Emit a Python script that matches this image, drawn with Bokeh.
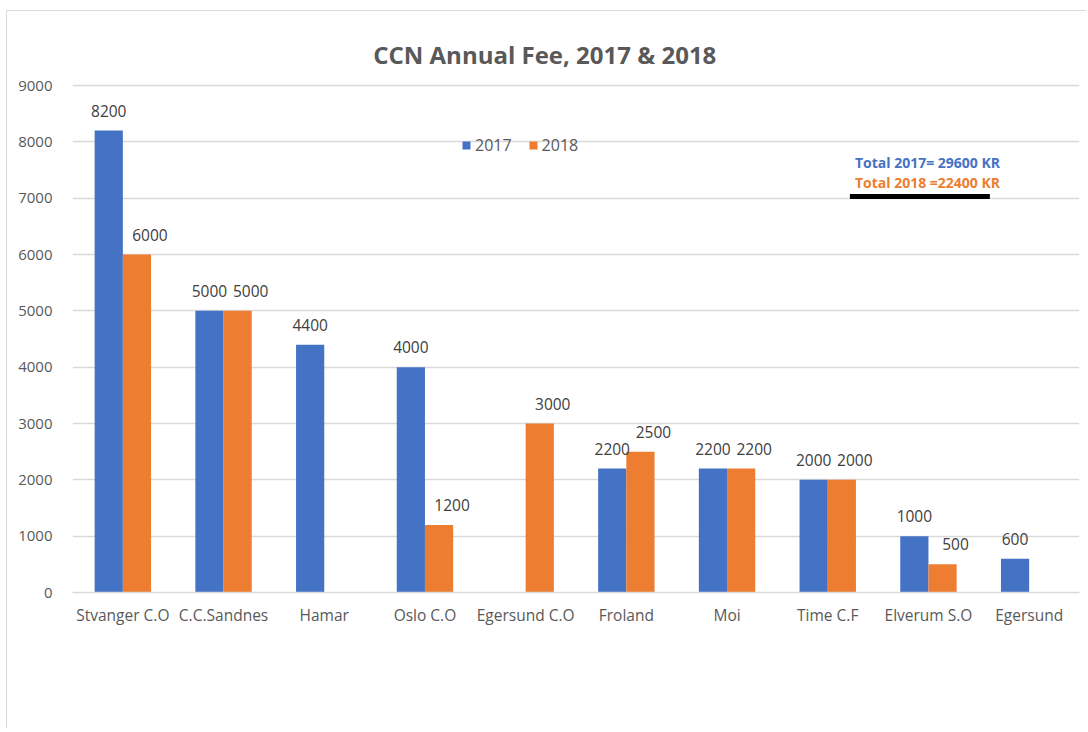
from bokeh.plotting import figure
from bokeh.models import ColumnDataSource, FactorRange, Legend, LegendItem, Label, LabelSet
from bokeh.transform import dodge
from bokeh.embed import file_html
from bokeh.resources import INLINE
from bokeh.core.properties import value

categories = ["Stvanger C.O", "C.C.Sandnes", "Hamar", "Oslo C.O", "Egersund C.O",
              "Froland", "Moi", "Time C.F", "Elverum S.O", "Egersund"]
fee_2017 = [8200, 5000, 4400, 4000, 0, 2200, 2200, 2000, 1000, 600]
fee_2018 = [6000, 5000, 0, 1200, 3000, 2500, 2200, 2000, 500, 0]
y_ticks = [0, 1000, 2000, 3000, 4000, 5000, 6000, 7000, 8000, 9000]
title_text = "CCN Annual Fee, 2017 & 2018"
total_2017 = sum(fee_2017)
total_2018 = sum(fee_2018)

BLUE = "#4472C4"
ORANGE = "#ED7D31"
FONT = "Open Sans"

src = ColumnDataSource(dict(cat=categories, y17=fee_2017, y18=fee_2018))
lab17 = ColumnDataSource(dict(cat=[c for c, v in zip(categories, fee_2017) if v > 0],
                              v=[v for v in fee_2017 if v > 0],
                              t=[str(v) for v in fee_2017 if v > 0]))
lab18 = ColumnDataSource(dict(cat=[c for c, v in zip(categories, fee_2018) if v > 0],
                              v=[v for v in fee_2018 if v > 0],
                              t=[str(v) for v in fee_2018 if v > 0]))

p = figure(width=1080, height=718, x_range=FactorRange(*categories, range_padding=0),
           y_range=(0, 10314), output_backend="svg", toolbar_location=None,
           min_border_left=65, min_border_right=8, min_border_top=0, min_border_bottom=137)
p.styles = {"box-shadow": "-1px -1px 0px 0px #d9d9d9", "margin": "11px 0px 0px 7px"}
p.outline_line_color = None
p.background_fill_color = "white"

r17 = p.vbar(x=dodge("cat", -0.14, range=p.x_range), top="y17", width=0.28, source=src,
             fill_color=BLUE, line_color=None)
r18 = p.vbar(x=dodge("cat", 0.14, range=p.x_range), top="y18", width=0.28, source=src,
             fill_color=ORANGE, line_color=None)

for s, off, xo in ((lab17, -0.14, 0), (lab18, 0.14, 13)):
    p.add_layout(LabelSet(x=dodge("cat", off, range=p.x_range), y="v", text="t", source=s,
                          text_align="center", text_baseline="bottom", y_offset=14, x_offset=xo,
                          text_font=value(FONT), text_font_size="15.5px", text_color="#404040"))

# axes
p.yaxis.ticker = y_ticks
p.yaxis.axis_line_color = None
p.yaxis.major_tick_line_color = None
p.yaxis.minor_tick_line_color = None
p.yaxis.major_label_standoff = 14
p.yaxis.major_label_text_font = FONT
p.yaxis.major_label_text_font_size = "15px"
p.yaxis.major_label_text_color = "#595959"

p.xaxis.axis_line_color = "#d9d9d9"
p.xaxis.axis_line_width = 1.5
p.xaxis.major_tick_line_color = None
p.xaxis.minor_tick_line_color = None
p.xaxis.major_label_standoff = 5
p.xaxis.major_label_text_font = FONT
p.xaxis.major_label_text_font_size = "15.5px"
p.xaxis.major_label_text_color = "#595959"

p.xgrid.grid_line_color = None
p.ygrid.ticker = y_ticks
p.ygrid.grid_line_color = "#d9d9d9"
p.ygrid.grid_line_width = 1.5

# legend
legend = Legend(items=[LegendItem(label="2017", renderers=[r17]),
                       LegendItem(label="2018", renderers=[r18])],
                orientation="horizontal", location=(389, 436),
                glyph_width=10, glyph_height=10, label_standoff=4, spacing=16,
                padding=0, margin=0, border_line_color=None, background_fill_alpha=0,
                label_text_font=FONT, label_text_font_size="16px", label_text_color="#595959")
p.add_layout(legend, "center")

# title
p.add_layout(Label(x=4.69, y=9550, text=title_text, text_align="center", text_baseline="middle",
                   text_font=FONT, text_font_size="24px", text_font_style="bold",
                   text_color="#595959"))

# totals annotation
p.add_layout(Label(x=7.77, y=7634, text=f"Total 2017= {total_2017} KR", text_align="left",
                   text_baseline="middle", text_font=FONT, text_font_size="14px",
                   text_font_style="bold", text_color=BLUE))
p.add_layout(Label(x=7.77, y=7279, text=f"Total 2018 ={total_2018} KR", text_align="left",
                   text_baseline="middle", text_font=FONT, text_font_size="14px",
                   text_font_style="bold", text_color=ORANGE))
p.segment(x0=[7.72], y0=[7030], x1=[9.11], y1=[7030], line_color="black", line_width=5)

open("out.html", "w").write(file_html(p, INLINE))
